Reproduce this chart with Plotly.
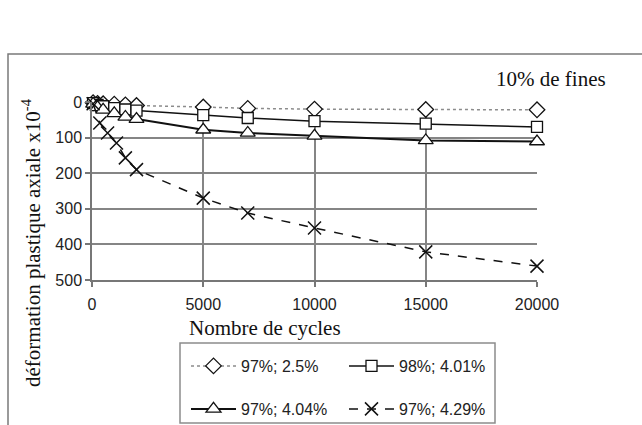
import plotly.graph_objects as go

# Cycle counts and axial plastic strain (x10^-4) for each mix
cycles_a = [50, 250, 500, 1000, 1500, 2000, 5000, 7000, 10000, 15000, 20000]
strain_a = [2, 4, 5, 6, 8, 10, 14, 18, 20, 21, 22]

cycles_b = [50, 250, 500, 1000, 1500, 2000, 5000, 7000, 10000, 15000, 20000]
strain_b = [3, 8, 12, 17, 21, 24, 37, 45, 54, 61, 70]

cycles_c = [50, 250, 500, 1000, 1500, 2000, 5000, 7000, 10000, 15000, 20000]
strain_c = [5, 15, 22, 32, 42, 48, 78, 87, 95, 108, 111]

cycles_d = [50, 350, 700, 1100, 1500, 2000, 5000, 7000, 10000, 15000, 20000]
strain_d = [5, 59, 87, 115, 157, 190, 270, 312, 354, 421, 461]

names = ["97%; 2.5%", "98%; 4.01%", "97%; 4.04%", "97%; 4.29%"]
x_ticks = [0, 5000, 10000, 15000, 20000]
y_ticks = [0, 100, 200, 300, 400, 500]

# Plot area geometry (pixels)
W, H = 642, 425
L, R, T, B = 92, 105, 102, 145
PW, PH = W - L - R, H - T - B


def px_x(p):
    return (p - L) / PW


def px_y(p):
    return (H - B - p) / PH


fig = go.Figure()

fig.add_trace(go.Scatter(
    x=cycles_a, y=strain_a, name=names[0], mode="lines+markers", cliponaxis=False,
    line=dict(color="#8c8c8c", width=1.5, dash="dot"),
    marker=dict(symbol="diamond", size=12, color="white", line=dict(color="#111", width=1.3)),
    legend="legend",
))
fig.add_trace(go.Scatter(
    x=cycles_b, y=strain_b, name=names[1], mode="lines+markers", cliponaxis=False,
    line=dict(color="#111", width=1.5),
    marker=dict(symbol="square", size=11, color="white", line=dict(color="#111", width=1.3)),
    legend="legend",
))
fig.add_trace(go.Scatter(
    x=cycles_c, y=strain_c, name=names[2], mode="lines+markers", cliponaxis=False,
    line=dict(color="#111", width=2),
    marker=dict(symbol="triangle-up", size=13, color="white", line=dict(color="#111", width=1.3)),
    legend="legend2",
))
fig.add_trace(go.Scatter(
    x=cycles_d, y=strain_d, name=names[3], mode="lines+markers", cliponaxis=False,
    line=dict(color="#111", width=1.5, dash="dash"),
    marker=dict(symbol="x-thin", size=13, color="#111", line=dict(color="#111", width=1.5)),
    legend="legend2",
))

tick_font = dict(family="Liberation Sans, Arial, sans-serif", size=16, color="#222")
legend_font = dict(family="Liberation Sans, Arial, sans-serif", size=16, color="#222")
serif = "Liberation Serif, Times New Roman, serif"

fig.update_layout(
    width=W, height=H,
    margin=dict(l=L, r=R, t=T, b=B, autoexpand=False),
    paper_bgcolor="white", plot_bgcolor="white",
    xaxis=dict(
        range=[0, 20000], tickvals=x_ticks, ticktext=[str(v) for v in x_ticks],
        showgrid=True, gridcolor="#858585", gridwidth=1.5, zeroline=False,
        showline=True, linecolor="#777", linewidth=1.5,
        ticks="outside", ticklen=5, tickcolor="#777", tickwidth=1.5,
        ticklabelstandoff=4, tickfont=tick_font, automargin=False,
    ),
    yaxis=dict(
        range=[500, 0], tickvals=y_ticks, ticktext=[str(v) for v in y_ticks],
        showgrid=True, gridcolor="#858585", gridwidth=1.5, zeroline=False,
        showline=True, linecolor="#777", linewidth=1.5,
        ticks="outside", ticklen=5, tickcolor="#777", tickwidth=1.5,
        tickfont=tick_font, automargin=False,
    ),
    legend=dict(
        orientation="h", x=px_x(186), y=px_y(349), xanchor="left", yanchor="top",
        font=legend_font, bgcolor="rgba(0,0,0,0)", entrywidth=98, itemwidth=45,
    ),
    legend2=dict(
        orientation="h", x=px_x(186), y=px_y(392), xanchor="left", yanchor="top",
        font=legend_font, bgcolor="rgba(0,0,0,0)", entrywidth=98, itemwidth=45,
    ),
    showlegend=True,
)

# Outer chart frame and legend frame
fig.add_shape(type="rect", xref="paper", yref="paper",
              x0=px_x(8), x1=px_x(700), y0=px_y(460), y1=px_y(54),
              line=dict(color="#7a7a7a", width=1.5), layer="below")
fig.add_shape(type="rect", xref="paper", yref="paper",
              x0=px_x(180), x1=px_x(495), y0=px_y(423), y1=px_y(343),
              line=dict(color="#8c8c8c", width=1.5), layer="below")

fig.add_annotation(text="10% de fines", xref="paper", yref="paper",
                   x=px_x(551), y=px_y(79), xanchor="center", yanchor="middle", showarrow=False,
                   font=dict(family=serif, size=21, color="#111"))
fig.add_annotation(text="Nombre de cycles", xref="paper", yref="paper",
                   x=px_x(265), y=px_y(328), xanchor="center", yanchor="middle", showarrow=False,
                   font=dict(family=serif, size=21, color="#111"))
fig.add_annotation(text="déformation plastique axiale x10<sup>-4</sup>", xref="paper", yref="paper",
                   x=px_x(31), y=px_y(243), xanchor="center", yanchor="middle",
                   showarrow=False, textangle=-90,
                   font=dict(family=serif, size=21, color="#111"))

fig.write_html("out.html")
